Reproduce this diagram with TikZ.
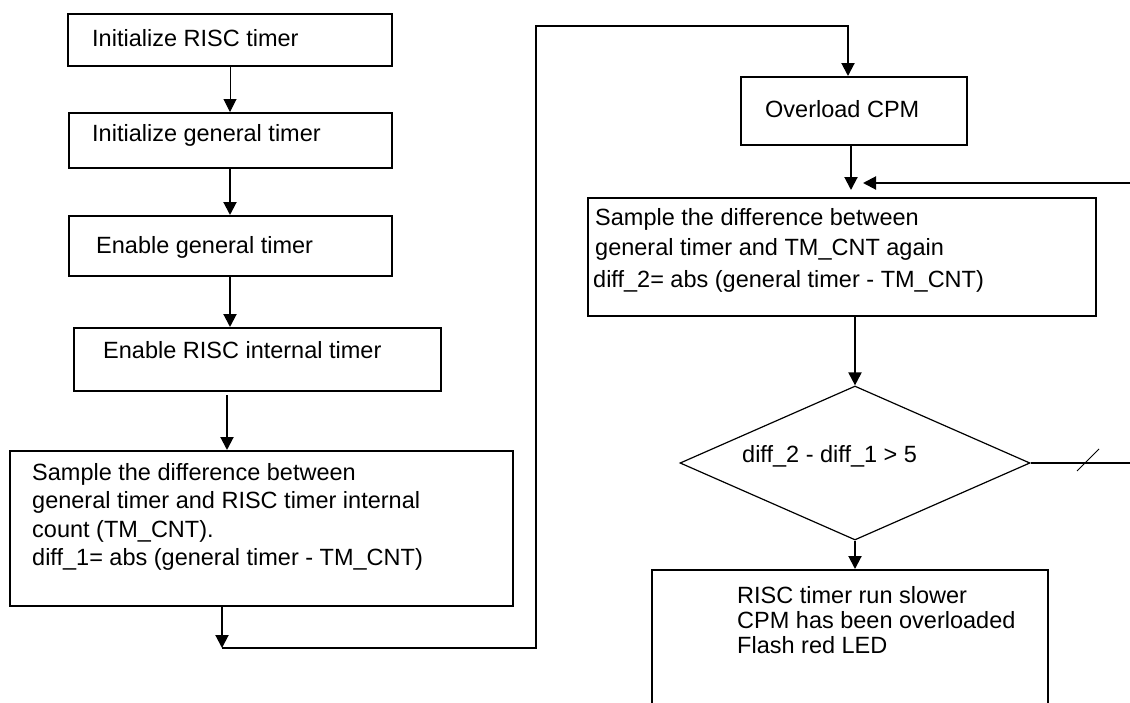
\documentclass[tikz,border=0pt]{standalone}
\usepackage{fontspec}
\setmainfont{Liberation Sans}
\usetikzlibrary{shapes.geometric,arrows.meta}
\begin{document}
\begin{tikzpicture}[x=1pt,y=-1pt,
  box/.style={draw,line width=2pt,rectangle,inner sep=0pt,anchor=north west},
  lbl/.style={anchor=base west,inner sep=0pt,font=\fontsize{23.5}{28}\selectfont},
  arr/.style={line width=2pt,-{Triangle[width=13pt,length=13pt]}},
  thinarr/.style={line width=1pt,-{Triangle[width=13pt,length=13pt]}},
  conn/.style={line width=2pt}]
\clip (0,0) rectangle (1130,702);
\fill[white] (0,0) rectangle (1130,702);
% left column boxes
\node[box,minimum width=324pt,minimum height=52pt] (b1) at (67,13) {};
\node[box,minimum width=323pt,minimum height=55pt] (b2) at (68,112) {};
\node[box,minimum width=323pt,minimum height=60pt] (b3) at (68,215) {};
\node[box,minimum width=367pt,minimum height=63pt] (b4) at (73,327) {};
\node[box,minimum width=503pt,minimum height=155pt] (b5) at (9,450) {};
% right column boxes
\node[box,minimum width=226pt,minimum height=68pt] (ov) at (740,76) {};
\node[box,minimum width=508pt,minimum height=118pt] (b7) at (587,197) {};
\node[draw,line width=1.2pt,diamond,inner sep=0pt,minimum width=350pt,minimum height=154pt] (dm) at (855,463) {};
\node[box,minimum width=396pt,minimum height=160pt] (bb) at (651,569) {};
% texts
\node[lbl] (t1) at (92,46) {Initialize RISC timer};
\node[lbl] (t2) at (92,141) {Initialize general timer};
\node[lbl] (t3) at (96,253) {Enable general timer};
\node[lbl] (t4) at (103,358) {Enable RISC internal timer};
\node[lbl] (t5a) at (32,480) {Sample the difference between};
\node[lbl] (t5b) at (32,508) {general timer and RISC timer internal};
\node[lbl] (t5c) at (32,537) {count (TM\_CNT).};
\node[lbl] (t5d) at (32,565) {diff\_1= abs (general timer - TM\_CNT)};
\node[lbl] (tov) at (765,117) {Overload CPM};
\node[lbl] (t7a) at (595,225) {Sample the difference between};
\node[lbl] (t7b) at (595,255) {general timer and TM\_CNT again};
\node[lbl] (t7c) at (593,287) {diff\_2= abs (general timer - TM\_CNT)};
\node[lbl] (tdm) at (742,462) {diff\_2 - diff\_1 > 5};
\node[lbl] (tba) at (737,603) {RISC timer run slower};
\node[lbl] (tbb) at (737,628) {CPM has been overloaded};
\node[lbl] (tbc) at (737,653) {Flash red LED};
% helper coordinates
\coordinate (x1) at (230,0);
\coordinate (a4s) at (227,395);
\coordinate (k1) at (222,648);
\coordinate (k2) at (536,648);
\coordinate (k3) at (536,26);
\coordinate (k4) at (848,26);
\coordinate (dtip) at (851,190);
\coordinate (fbs) at (1130,183);
\coordinate (fbt) at (863,183);
\coordinate (rend) at (1130,463);
% connectors
\draw[thinarr] (b1.south -| x1) -- (b2.north -| x1);
\draw[arr] (b2.south -| x1) -- (b3.north -| x1);
\draw[arr] (b3.south -| x1) -- (b4.north -| x1);
\draw[arr] (a4s) -- (a4s |- b5.north);
\draw[arr] (b5.south -| k1) -- (k1);
\draw[arr] (k1) -- (k2) -- (k3) -- (k4) -- (ov.north -| k4);
\draw[arr] (ov.south -| dtip) -- (dtip);
\draw[arr] (fbs) -- (fbt);
\draw[arr] (b7.south -| dm.north) -- (dm.north);
\draw[line width=1.2pt] (dm.east) -- (rend);
\draw[line width=1pt] (1077,471) -- (1099,449);
\draw[arr] (dm.south) -- (bb.north -| dm.south);
\end{tikzpicture}
\end{document}
